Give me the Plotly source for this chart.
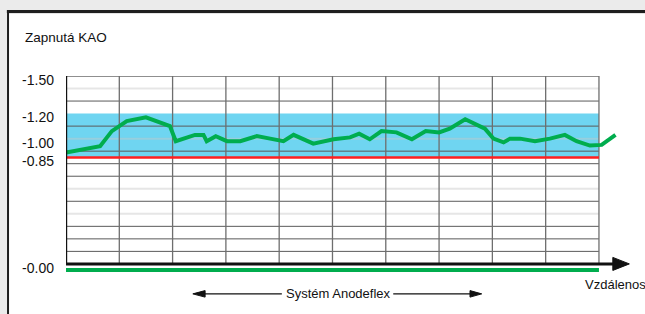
import plotly.graph_objects as go

# ---- data ----
distance = [0, 0.64, 0.86, 1.14, 1.50, 1.95, 2.06, 2.42, 2.58, 2.64, 2.81, 3.02, 3.27, 3.58,
            3.83, 4.08, 4.27, 4.64, 5.02, 5.33, 5.50, 5.70, 5.92, 6.20, 6.49, 6.75, 7.00,
            7.20, 7.49, 7.86, 8.02, 8.21, 8.33, 8.52, 8.80, 9.08, 9.36, 9.58, 9.83, 10.05, 10.31]
potential = [-0.89, -0.94, -1.06, -1.14, -1.17, -1.10, -0.98, -1.03, -1.03, -0.98, -1.02, -0.98,
             -0.98, -1.02, -1.00, -0.98, -1.03, -0.96, -0.995, -1.01, -1.04, -0.995, -1.06,
             -1.05, -0.995, -1.06, -1.05, -1.08, -1.155, -1.08, -1.00, -0.97, -1.00, -1.00,
             -0.98, -1.00, -1.03, -0.98, -0.945, -0.95, -1.03]
tick_vals = [-1.5, -1.2, -1.0, -0.85, 0.0]
tick_text = ["-1.50", "-1.20", "-1.00", "-0.85", "-0.00"]
band_range = [-1.2, -0.85]
limit_value = -0.85
grid_dark = [-1.3, -1.1, -0.9, -0.8, -0.7, -0.5, -0.3, -0.2, -0.1]
grid_light = [-1.4, -1.0, -0.6, -0.4]
columns = list(range(1, 11))
x_end = 10
system_span = [2.38, 7.80]

GREEN = "#00ad4e"
FONT = "Arial, Liberation Sans, sans-serif"

fig = go.Figure()
fig.add_trace(go.Scatter(x=distance, y=potential, mode="lines",
                         line=dict(color=GREEN, width=4), hoverinfo="skip"))

shapes = []
# frame of the panel
shapes.append(dict(type="rect", xref="paper", yref="paper", x0=-0.101, x1=1.2, y0=-0.3, y1=1.286,
                   fillcolor="white", line=dict(width=0), layer="below"))
shapes.append(dict(type="line", xref="paper", yref="paper", x0=-0.103, x1=1.2, y0=1.283, y1=1.283,
                   line=dict(color="#c8c8c8", width=2), layer="below"))
shapes.append(dict(type="line", xref="paper", yref="paper", x0=-0.103, x1=1.2, y0=1.288, y1=1.288,
                   line=dict(color="#1e1e1e", width=3), layer="below"))
shapes.append(dict(type="line", xref="paper", yref="paper", x0=-0.101, x1=-0.101, y0=-0.3, y1=1.29,
                   line=dict(color="#1e1e1e", width=2), layer="below"))
# cyan band
shapes.append(dict(type="rect", x0=0, x1=x_end, y0=band_range[0], y1=band_range[1],
                   fillcolor="#6fd5f1", line=dict(width=0), layer="below"))
# horizontal grid
for v in grid_light:
    shapes.append(dict(type="line", x0=0, x1=x_end, y0=v, y1=v,
                       line=dict(color="rgba(200,200,200,0.45)", width=2), layer="below"))
for v in grid_dark:
    shapes.append(dict(type="line", x0=0, x1=x_end, y0=v, y1=v,
                       line=dict(color="#5a5a5a", width=1), layer="below"))
shapes.append(dict(type="line", x0=0, x1=x_end, y0=-1.5, y1=-1.5,
                   line=dict(color="#6a6a6a", width=1.3), layer="below"))
# vertical grid
for c in columns:
    shapes.append(dict(type="line", x0=c, x1=c, y0=-1.5, y1=0,
                       line=dict(color="#6e6e6e", width=1.3), layer="below"))
# red limit line
shapes.append(dict(type="line", x0=0, x1=x_end, y0=limit_value, y1=limit_value,
                   line=dict(color="#ff1f1f", width=2.5), layer="below"))
# axes
shapes.append(dict(type="line", x0=0, x1=0, y0=-1.505, y1=0,
                   line=dict(color="#111", width=2.4)))
shapes.append(dict(type="line", x0=0, x1=10.3, y0=0, y1=0,
                   line=dict(color="#111", width=3)))
shapes.append(dict(type="path", path="M 10.26,-0.052 L 10.57,0 L 10.26,0.052 Z",
                   fillcolor="#111", line=dict(color="#111", width=1)))
# green bar under the axis (system extent)
shapes.append(dict(type="line", x0=0, x1=x_end, y0=0.048, y1=0.048,
                   line=dict(color=GREEN, width=4)))
# Systém Anodeflex arrows
ya = 0.239
shapes.append(dict(type="line", x0=2.55, x1=4.05, y0=ya, y1=ya, line=dict(color="#111", width=1.2)))
shapes.append(dict(type="path", path=f"M 2.61,{ya-0.026} L {system_span[0]},{ya} L 2.61,{ya+0.026} Z",
                   fillcolor="#111", line=dict(color="#111", width=1)))
shapes.append(dict(type="line", x0=6.14, x1=7.62, y0=ya, y1=ya, line=dict(color="#111", width=1.2)))
shapes.append(dict(type="path", path=f"M 7.58,{ya-0.026} L {system_span[1]},{ya} L 7.58,{ya+0.026} Z",
                   fillcolor="#111", line=dict(color="#111", width=1)))

annotations = [
    dict(text="Zapnutá KAO", xref="paper", yref="paper", x=-0.0749, y=1.174,
         xanchor="left", yanchor="middle", showarrow=False, font=dict(size=13.5, color="#111")),
    dict(text="Vzdálenos", xref="x", yref="y", x=9.70, y=0.168,
         xanchor="left", yanchor="middle", showarrow=False, font=dict(size=13, color="#111")),
    dict(text="Systém Anodeflex", xref="x", yref="y", x=5.11, y=ya,
         xanchor="center", yanchor="middle", showarrow=False, font=dict(size=13, color="#111")),
]

fig.update_layout(
    width=645, height=314,
    margin=dict(l=66, r=5, t=76, b=14),
    paper_bgcolor="#ebebeb", plot_bgcolor="rgba(0,0,0,0)",
    showlegend=False,
    font=dict(family=FONT, color="#111"),
    shapes=shapes, annotations=annotations,
    xaxis=dict(range=[0, 10.77], showgrid=False, zeroline=False, showticklabels=False,
               showline=False, ticks=""),
    yaxis=dict(range=[0.288, -1.5], showgrid=False, zeroline=False, showline=False,
               tickmode="array", tickvals=tick_vals, ticktext=tick_text, ticks="",
               ticklabelstandoff=11, ticklabelshift=-4,
               tickfont=dict(size=14, family=FONT, color="#111")),
)

fig.write_html("out.html", config={"displayModeBar": False},
               post_script="document.body.style.margin='0';document.body.style.overflow='hidden';")
